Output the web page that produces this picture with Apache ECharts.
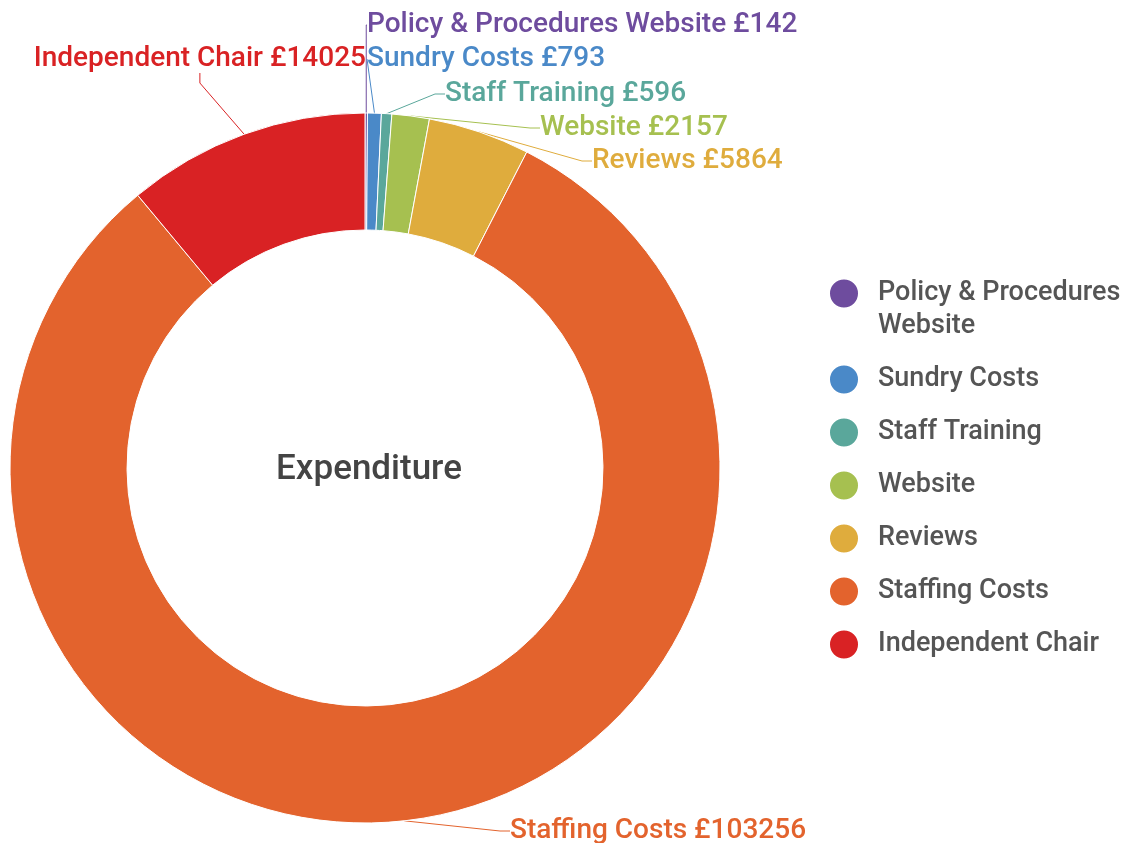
<!DOCTYPE html>
<html>
<head>
<meta charset="utf-8">
<script src="https://cdn.jsdelivr.net/npm/echarts@6/dist/echarts.min.js"></script>
<style>
  html, body { margin: 0; padding: 0; background: #fff; }
  #chart { width: 1131px; height: 843px; }
</style>
</head>
<body>
<div id="chart"></div>
<script>
  // data
  const categories = ['Policy & Procedures Website', 'Sundry Costs', 'Staff Training', 'Website', 'Reviews', 'Staffing Costs', 'Independent Chair']
  const amounts = [142, 793, 596, 2157, 5864, 103256, 14025]
  const colors = ['#6e4c9e', '#4a89c8', '#5aa79b', '#a6c050', '#dfac3d', '#e3632d', '#d92224']

  // where each label sits (layout only)
  const labelPlace = [
    { x: 367, y: 25, align: 'left' },
    { x: 367, y: 59, align: 'left' },
    { x: 445, y: 94, align: 'left' },
    { x: 540, y: 128, align: 'left' },
    { x: 592, y: 161, align: 'left' },
    { x: 510, y: 831, align: 'left' },
    { x: 366, y: 59, align: 'right' },
  ]

  const chart = echarts.init(document.getElementById('chart'))
  const font = 'Roboto, "Noto Sans", sans-serif'

  const option = {
    color: colors,
    animation: false,
    title: {
      text: 'Expenditure',
      left: 364,
      top: 448,
      textAlign: 'center',
      textStyle: { fontFamily: font, fontSize: 35, fontWeight: 500, color: '#444' },
    },
    legend: {
      orient: 'vertical',
      left: 828,
      top: 244,
      padding: 0,
      icon: 'circle',
      itemWidth: 30,
      itemHeight: 30,
      itemGap: 20,
      textStyle: {
        fontFamily: font,
        fontSize: 27,
        fontWeight: 500,
        color: '#555',
        lineHeight: 33,
        padding: [0, 0, 0, 14],
      },
      data: categories,
      // long first name wraps; blank first line keeps line one level with the dot
      formatter: (name) => (name === categories[0] ? ' \nPolicy & Procedures\nWebsite' : name),
    },
    series: [
      {
        type: 'pie',
        center: [365, 468],
        radius: [238, 355],
        startAngle: 90,
        clockwise: true,
        avoidLabelOverlap: false,
        itemStyle: { borderColor: '#fff', borderWidth: 1 },
        label: {
          show: true,
          position: 'outside',
          formatter: (p) => p.name + ' £' + p.value,
          fontFamily: font,
          fontSize: 28,
          fontWeight: 500,
          color: 'inherit',
        },
        labelLine: { show: true, length: 15, length2: 10, lineStyle: { width: 1 } },
        labelLayout: (params) => {
          const p = labelPlace[params.dataIndex]
          return { x: p.x, y: p.y, align: p.align, verticalAlign: 'middle' }
        },
        emphasis: { disabled: true },
        data: categories.map((c, i) => ({ name: c, value: amounts[i] })),
      },
    ],
  }

  chart.setOption(option)
</script>
</body>
</html>
